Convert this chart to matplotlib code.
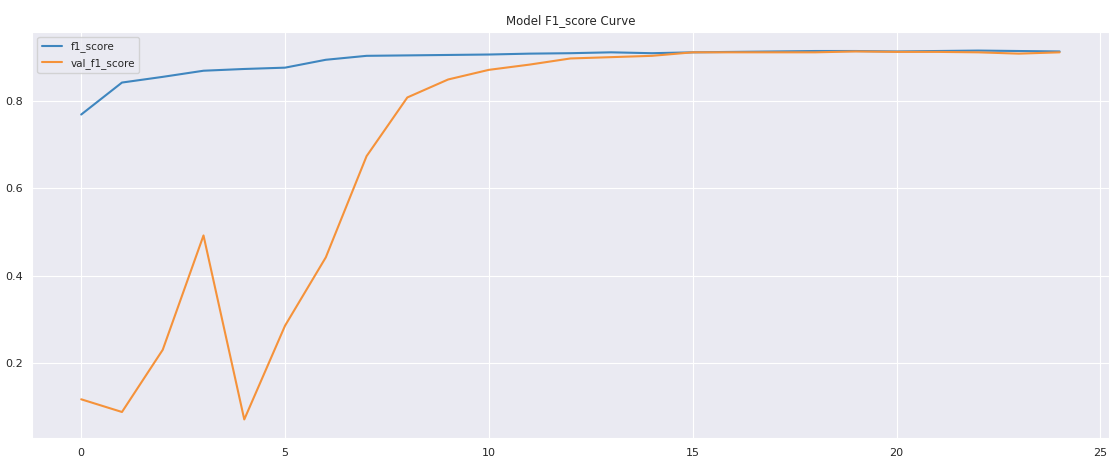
import matplotlib
matplotlib.use("Agg")
import matplotlib.pyplot as plt
import seaborn as sns

epochs = list(range(25))
f1_score = [0.768, 0.841, 0.854, 0.868, 0.872, 0.875, 0.893, 0.902, 0.903, 0.904,
            0.905, 0.907, 0.908, 0.910, 0.908, 0.910, 0.911, 0.912, 0.913, 0.913,
            0.912, 0.913, 0.914, 0.913, 0.912]
val_f1_score = [0.118, 0.089, 0.231, 0.492, 0.072, 0.286, 0.442, 0.673, 0.807, 0.848,
                0.870, 0.882, 0.896, 0.899, 0.902, 0.910, 0.910, 0.910, 0.910, 0.912,
                0.911, 0.911, 0.910, 0.907, 0.910]

sns.set_style("darkgrid")

fig = plt.figure(figsize=(11.13, 4.59), dpi=100)
ax = fig.add_axes([0.029, 0.046, 0.967, 0.884])
ax.plot(epochs, f1_score, label="f1_score", color="#3f86bf")
ax.plot(epochs, val_f1_score, label="val_f1_score", color="#f5923a")
ax.set_title("Model F1_score Curve", fontsize=8.5)
ax.set_xticks([0, 5, 10, 15, 20, 25])
ax.set_yticks([0.2, 0.4, 0.6, 0.8])
ax.tick_params(labelsize=8)
ax.legend(loc="upper left", fontsize=7.5)

fig.savefig("out.png", dpi=100)
